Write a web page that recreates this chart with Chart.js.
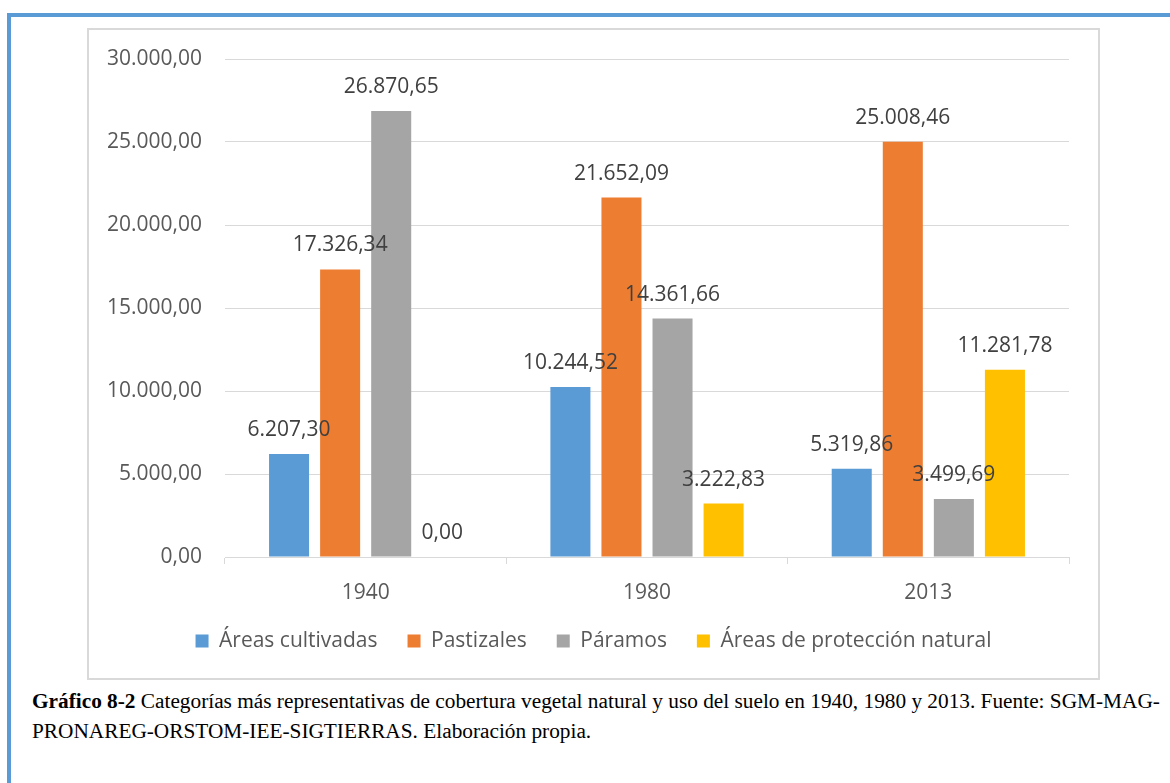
<!DOCTYPE html>
<html lang="es">
<head>
<meta charset="utf-8">
<title>Cobertura vegetal y uso del suelo</title>
<script src="https://cdn.jsdelivr.net/npm/chart.js@4.4.1/dist/chart.umd.min.js"></script>
<style>
    html, body { margin: 0; padding: 0; background: #fff; }
    body { width: 1170px; height: 783px; position: relative; overflow: hidden; }
    #frame {
        position: absolute; left: 7px; top: 13px; width: 1200px; height: 800px;
        border-left: 4px solid #5b9bd5; border-top: 4px solid #5b9bd5;
    }
    #chart-box {
        position: absolute; left: 87px; top: 28px; width: 1009px; height: 648px;
        border: 2px solid #d9d9d9;
    }
    #chart-wrap { position: absolute; left: 88px; top: 29px; width: 1011px; height: 650px; }
    #caption {
        position: absolute; left: 32px; top: 686px; white-space: nowrap;
        font-family: "Liberation Serif", "Times New Roman", serif; font-size: 21.3px;
        line-height: 30px; color: #000;
    }
</style>
</head>
<body>
<div id="frame"></div>
<div id="chart-box"></div>
<div id="chart-wrap"><canvas id="bar-chart" width="1011" height="650"></canvas></div>
<div id="caption"><b>Gráfico 8-2</b> Categorías más representativas de cobertura vegetal natural y uso del suelo en 1940, 1980 y 2013. Fuente: SGM-MAG-<br>PRONAREG-ORSTOM-IEE-SIGTIERRAS. Elaboración propia.</div>
<script>
// DATA (hectáreas)
// ---------------------------------------------------
const years = [ '1940', '1980', '2013' ];
const areasCultivadas = [ 6207.30, 10244.52, 5319.86 ];
const pastizales = [ 17326.34, 21652.09, 25008.46 ];
const paramos = [ 26870.65, 14361.66, 3499.69 ];
const proteccionNatural = [ 0.00, 3222.83, 11281.78 ];
const yTicks = [ 0, 5000, 10000, 15000, 20000, 25000, 30000 ];

// NUMBER FORMAT 12345.6 -> 12.345,60
// ---------------------------------------------------
function formatEs( value ) {
    const parts = Math.abs( value ).toFixed( 2 ).split( '.' );
    const intPart = parts[ 0 ].replace( /\B(?=(\d{3})+(?!\d))/g, '.' );
    return ( value < 0 ? '-' : '' ) + intPart + ',' + parts[ 1 ];
}

// VALUE LABELS ABOVE EACH BAR
// ---------------------------------------------------
const valueLabels = {
    id: 'valueLabels',
    afterLayout( chart ) {
        // keep the legend row centred on the whole box, not only right of the axis
        chart.legend.left = 30;
    },
    afterDatasetsDraw( chart ) {
        const ctx = chart.ctx;
        ctx.save();
        ctx.font = '21px "Open Sans"';
        ctx.fillStyle = '#404040';
        ctx.textAlign = 'center';
        ctx.textBaseline = 'alphabetic';
        chart.data.datasets.forEach( ( ds, i ) => {
            chart.getDatasetMeta( i ).data.forEach( ( bar, j ) => {
                ctx.fillText( formatEs( ds.data[ j ] ), bar.x, bar.y - 18 );
            });
        });
        ctx.restore();
    }
};

Chart.defaults.font.family = '"Open Sans", sans-serif';
Chart.defaults.font.size = 21;
Chart.defaults.color = '#595959';

const barOpts = { categoryPercentage: 0.726, barPercentage: 0.784 };

new Chart( document.querySelector( '#bar-chart' ), {
    type: 'bar',
    data: {
        labels: years,
        datasets: [
            Object.assign( { label: 'Áreas cultivadas', data: areasCultivadas, backgroundColor: '#5b9bd5' }, barOpts ),
            Object.assign( { label: 'Pastizales', data: pastizales, backgroundColor: '#ed7d31' }, barOpts ),
            Object.assign( { label: 'Páramos', data: paramos, backgroundColor: '#a5a5a5' }, barOpts ),
            Object.assign( { label: 'Áreas de protección natural', data: proteccionNatural, backgroundColor: '#ffc000' }, barOpts )
        ]
    },
    options: {
        responsive: false,
        animation: false,
        layout: { padding: { left: 0, right: 30, top: 30, bottom: 17.5 } },
        plugins: {
            tooltip: { enabled: false },
            legend: {
                position: 'bottom',
                labels: { boxWidth: 13, boxHeight: 13, padding: 30, color: '#595959' }
            }
        },
        scales: {
            x: {
                grid: { drawOnChartArea: false, drawTicks: true, tickLength: 7, color: '#d9d9d9', offset: true },
                border: { color: '#d9d9d9', width: 1 },
                ticks: { padding: 16.4, color: '#595959' },
                afterFit( scale ) { scale.height = 43.5; }
            },
            y: {
                min: 0,
                max: 30000,
                afterBuildTicks( scale ) { scale.ticks = yTicks.map( v => ({ value: v }) ); },
                grid: { color: '#d9d9d9', drawTicks: false },
                border: { display: false },
                ticks: { padding: 23, color: '#595959', callback: v => formatEs( v ) },
                afterFit( scale ) {
                    scale.width = 137;
                    // the label gap should not push the plot area down
                    scale.paddingTop = 12;
                    scale.paddingBottom = 12;
                }
            }
        }
    },
    plugins: [ valueLabels ]
});
</script>
</body>
</html>
